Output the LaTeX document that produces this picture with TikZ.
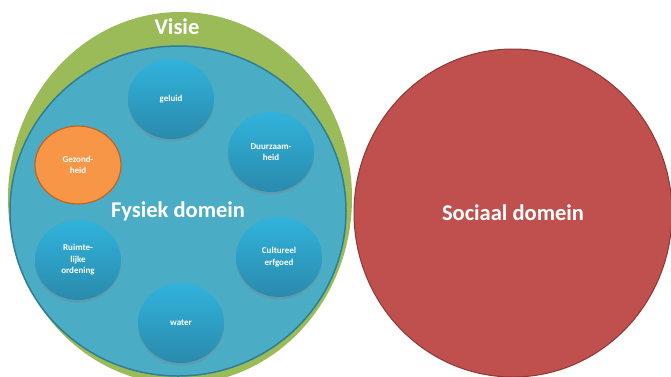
\documentclass[tikz,border=0pt]{standalone}
\usepackage{fontspec}
\setmainfont{Carlito}
\usepackage{tikz}
\usetikzlibrary{shapes.geometric,shadows}
\definecolor{visiegreen}{HTML}{9BBB59}
\definecolor{fysiekblue}{HTML}{4BACC6}
\definecolor{fysiekedge}{HTML}{2F7E95}
\definecolor{bollight}{HTML}{31B3DC}
\definecolor{boldark}{HTML}{2A8AAC}
\definecolor{oranje}{HTML}{F79646}
\definecolor{oranjeedge}{HTML}{C2641F}
\definecolor{sociaalred}{HTML}{C0504D}
\definecolor{sociaaledge}{HTML}{8C3836}
\tikzset{
  visie/.style={ellipse, fill=visiegreen, inner sep=0pt,
    minimum width=344pt, minimum height=372pt},
  fysiek/.style={ellipse, fill=fysiekblue, draw=fysiekedge, line width=1.5pt,
    inner sep=0pt, minimum width=336pt, minimum height=330pt},
  sociaal/.style={ellipse, fill=sociaalred, draw=sociaaledge, line width=1pt,
    inner sep=0pt, minimum width=318pt, minimum height=328pt},
  titel/.style={text=white, font=\bfseries\fontsize{22.5}{27}\selectfont},
  bol/.style={ellipse, inner sep=0pt, minimum width=86pt, minimum height=80pt,
    top color=bollight, bottom color=boldark, align=center, text=white,
    font=\bfseries\fontsize{9}{11.5}\selectfont,
    drop shadow={opacity=0.35, shadow xshift=0pt, shadow yshift=-2.5pt}},
  oranjebol/.style={ellipse, inner sep=0pt, minimum width=86pt, minimum height=78pt,
    fill=oranje, draw=oranjeedge, line width=1.2pt, align=center, text=white,
    font=\bfseries\fontsize{9}{11.5}\selectfont}
}

\begin{document}
\begin{tikzpicture}[x=1pt, y=-1pt]
  \clip (0,0) rectangle (671,376);
  \fill[white] (0,0) rectangle (671,376);
  % visie en domeinen
  \node[visie] (visie) at (180,198) {};
  \node[titel] (visietekst) at (177,27) {Visie};
  \node[fysiek, titel] (fysiek) at (178,211) {Fysiek domein};
  \node[sociaal, titel] (sociaal) at (513,213) {Sociaal domein};
  % thema's
  \node[bol] (geluid) at (171,99) {geluid};
  \node[bol] (duurzaam) at (271,152) {Duurzaam-\\heid};
  \node[oranjebol] (gezond) at (78,165) {Gezond-\\heid};
  \node[bol] (ruimte) at (78,260) {Ruimte-\\lijke\\ordening};
  \node[bol] (cultuur) at (279,257) {Cultureel\\erfgoed};
  \node[bol] (water) at (181,323) {water};
\end{tikzpicture}
\end{document}
